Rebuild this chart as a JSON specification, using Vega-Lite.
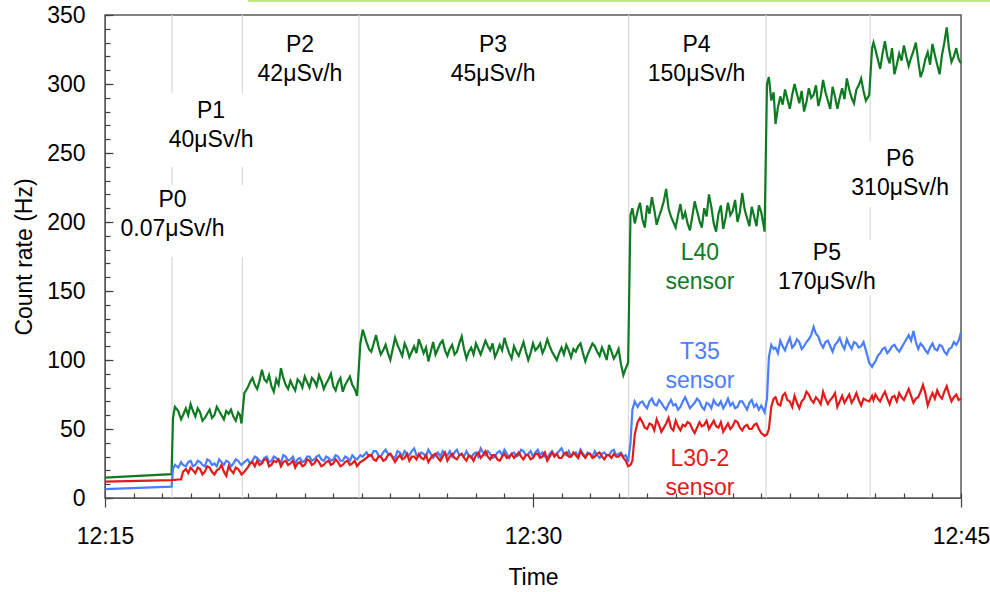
{
  "$schema": "https://vega.github.io/schema/vega-lite/v6.json",
  "width": 856,
  "height": 483,
  "autosize": "none",
  "padding": {"left": 105, "top": 15, "right": 29, "bottom": 94},
  "background": "white",
  "config": {
    "font": "Liberation Sans",
    "view": {"stroke": "#595959", "strokeWidth": 1.5},
    "axis": {"grid": false, "labelColor": "black", "titleColor": "black", "titleFontWeight": "normal", "labelFontSize": 23, "titleFontSize": 23, "tickColor": "#404040", "tickWidth": 1.2, "domainColor": "#595959", "labelFlush": false}
  },
  "resolve": {"axis": {"x": "independent", "y": "independent"}},
  "datasets": {
    "series": [
      {"t":"12:15:00","g":14.7,"b":6.5,"r":11.8},
      {"t":"12:17:20","g":17.3,"b":8.2,"r":13},
      {"t":"12:17:23","g":58,"b":21,"r":13.1},
      {"t":"12:17:27","g":66,"b":24,"r":13.2},
      {"t":"12:17:34","g":63,"b":22,"r":13.4},
      {"t":"12:17:40","g":57,"b":26,"r":13.5},
      {"t":"12:17:44","g":60,"b":24,"r":19},
      {"t":"12:17:50","g":65,"b":23,"r":21},
      {"t":"12:17:55","g":60,"b":26,"r":18},
      {"t":"12:18:00","g":68,"b":27,"r":22},
      {"t":"12:18:05","g":63,"b":23,"r":20},
      {"t":"12:18:10","g":59,"b":24,"r":18},
      {"t":"12:18:15","g":65,"b":27,"r":22},
      {"t":"12:18:20","g":62,"b":26,"r":21},
      {"t":"12:18:25","g":56,"b":24,"r":17},
      {"t":"12:18:30","g":58,"b":23,"r":19},
      {"t":"12:18:35","g":61,"b":28,"r":23},
      {"t":"12:18:40","g":64,"b":27,"r":22},
      {"t":"12:18:45","g":58,"b":24,"r":19},
      {"t":"12:18:50","g":60,"b":25,"r":17},
      {"t":"12:18:55","g":66,"b":23,"r":20},
      {"t":"12:19:00","g":63,"b":28,"r":21},
      {"t":"12:19:05","g":60,"b":26,"r":24},
      {"t":"12:19:10","g":57,"b":24,"r":19},
      {"t":"12:19:15","g":63,"b":27,"r":16},
      {"t":"12:19:20","g":61,"b":26,"r":23},
      {"t":"12:19:25","g":64,"b":23,"r":20},
      {"t":"12:19:30","g":59,"b":25,"r":18},
      {"t":"12:19:35","g":56,"b":28,"r":22},
      {"t":"12:19:40","g":62,"b":27,"r":21},
      {"t":"12:19:44","g":60,"b":25,"r":19},
      {"t":"12:19:47","g":54,"b":24,"r":17},
      {"t":"12:19:53","g":76,"b":26,"r":19},
      {"t":"12:20:00","g":80,"b":28,"r":22},
      {"t":"12:20:05","g":84,"b":25,"r":25},
      {"t":"12:20:10","g":87,"b":27,"r":26},
      {"t":"12:20:15","g":82,"b":30,"r":23},
      {"t":"12:20:20","g":79,"b":29,"r":27},
      {"t":"12:20:25","g":85,"b":27,"r":24},
      {"t":"12:20:30","g":93,"b":26,"r":25},
      {"t":"12:20:35","g":86,"b":29,"r":28},
      {"t":"12:20:40","g":84,"b":30,"r":28},
      {"t":"12:20:45","g":89,"b":26,"r":23},
      {"t":"12:20:50","g":81,"b":27,"r":24},
      {"t":"12:20:55","g":77,"b":30,"r":27},
      {"t":"12:21:00","g":86,"b":29,"r":26},
      {"t":"12:21:05","g":82,"b":27,"r":28},
      {"t":"12:21:10","g":94,"b":26,"r":23},
      {"t":"12:21:15","g":87,"b":31,"r":26},
      {"t":"12:21:20","g":82,"b":30,"r":27},
      {"t":"12:21:25","g":79,"b":27,"r":24},
      {"t":"12:21:30","g":85,"b":28,"r":25},
      {"t":"12:21:35","g":81,"b":30,"r":27},
      {"t":"12:21:40","g":78,"b":25,"r":22},
      {"t":"12:21:45","g":86,"b":28,"r":25},
      {"t":"12:21:50","g":84,"b":29,"r":26},
      {"t":"12:21:55","g":80,"b":26,"r":23},
      {"t":"12:22:00","g":88,"b":27,"r":24},
      {"t":"12:22:05","g":84,"b":30,"r":28},
      {"t":"12:22:10","g":80,"b":30,"r":27},
      {"t":"12:22:15","g":87,"b":27,"r":24},
      {"t":"12:22:20","g":85,"b":28,"r":25},
      {"t":"12:22:25","g":81,"b":30,"r":28},
      {"t":"12:22:30","g":89,"b":31,"r":26},
      {"t":"12:22:35","g":85,"b":28,"r":23},
      {"t":"12:22:40","g":79,"b":27,"r":24},
      {"t":"12:22:45","g":83,"b":30,"r":26},
      {"t":"12:22:50","g":86,"b":29,"r":27},
      {"t":"12:22:55","g":90,"b":27,"r":24},
      {"t":"12:23:00","g":81,"b":28,"r":25},
      {"t":"12:23:05","g":78,"b":31,"r":28},
      {"t":"12:23:10","g":84,"b":30,"r":26},
      {"t":"12:23:15","g":87,"b":27,"r":23},
      {"t":"12:23:20","g":77,"b":27,"r":24},
      {"t":"12:23:25","g":82,"b":30,"r":26},
      {"t":"12:23:30","g":85,"b":29,"r":27},
      {"t":"12:23:35","g":88,"b":27,"r":24},
      {"t":"12:23:40","g":82,"b":31,"r":25},
      {"t":"12:23:45","g":79,"b":29,"r":27},
      {"t":"12:23:50","g":74,"b":28,"r":23},
      {"t":"12:23:57","g":112,"b":31,"r":26},
      {"t":"12:24:02","g":122,"b":30,"r":27},
      {"t":"12:24:10","g":113,"b":33,"r":29},
      {"t":"12:24:15","g":108,"b":30,"r":31},
      {"t":"12:24:20","g":106,"b":31,"r":31},
      {"t":"12:24:25","g":112,"b":34,"r":28},
      {"t":"12:24:30","g":118,"b":34,"r":27},
      {"t":"12:24:35","g":110,"b":31,"r":30},
      {"t":"12:24:40","g":104,"b":30,"r":30},
      {"t":"12:24:45","g":107,"b":33,"r":27},
      {"t":"12:24:50","g":111,"b":35,"r":28},
      {"t":"12:24:55","g":105,"b":32,"r":31},
      {"t":"12:25:00","g":100,"b":32,"r":32},
      {"t":"12:25:05","g":108,"b":30,"r":29},
      {"t":"12:25:10","g":116,"b":29,"r":26},
      {"t":"12:25:15","g":111,"b":34,"r":29},
      {"t":"12:25:20","g":107,"b":33,"r":31},
      {"t":"12:25:25","g":103,"b":30,"r":28},
      {"t":"12:25:30","g":112,"b":34,"r":29},
      {"t":"12:25:35","g":108,"b":32,"r":32},
      {"t":"12:25:40","g":102,"b":31,"r":27},
      {"t":"12:25:45","g":106,"b":34,"r":30},
      {"t":"12:25:50","g":110,"b":36,"r":30},
      {"t":"12:25:55","g":105,"b":31,"r":28},
      {"t":"12:26:00","g":115,"b":30,"r":32},
      {"t":"12:26:05","g":110,"b":33,"r":29},
      {"t":"12:26:10","g":105,"b":32,"r":28},
      {"t":"12:26:15","g":109,"b":30,"r":31},
      {"t":"12:26:20","g":99,"b":35,"r":26},
      {"t":"12:26:25","g":106,"b":32,"r":29},
      {"t":"12:26:30","g":113,"b":29,"r":31},
      {"t":"12:26:35","g":104,"b":31,"r":32},
      {"t":"12:26:40","g":108,"b":33,"r":29},
      {"t":"12:26:45","g":112,"b":30,"r":27},
      {"t":"12:26:50","g":114,"b":34,"r":30},
      {"t":"12:26:55","g":107,"b":32,"r":33},
      {"t":"12:27:00","g":103,"b":31,"r":27},
      {"t":"12:27:05","g":108,"b":34,"r":30},
      {"t":"12:27:10","g":111,"b":30,"r":32},
      {"t":"12:27:15","g":104,"b":33,"r":29},
      {"t":"12:27:20","g":106,"b":35,"r":28},
      {"t":"12:27:25","g":112,"b":31,"r":31},
      {"t":"12:27:30","g":117,"b":32,"r":32},
      {"t":"12:27:35","g":108,"b":30,"r":29},
      {"t":"12:27:40","g":101,"b":34,"r":27},
      {"t":"12:27:45","g":106,"b":31,"r":31},
      {"t":"12:27:50","g":109,"b":29,"r":30},
      {"t":"12:27:55","g":104,"b":32,"r":27},
      {"t":"12:28:00","g":112,"b":33,"r":31},
      {"t":"12:28:05","g":108,"b":30,"r":33},
      {"t":"12:28:10","g":104,"b":36,"r":29},
      {"t":"12:28:15","g":109,"b":33,"r":31},
      {"t":"12:28:20","g":114,"b":31,"r":34},
      {"t":"12:28:25","g":110,"b":34,"r":30},
      {"t":"12:28:30","g":107,"b":32,"r":28},
      {"t":"12:28:35","g":112,"b":29,"r":31},
      {"t":"12:28:40","g":102,"b":30,"r":31},
      {"t":"12:28:45","g":106,"b":33,"r":28},
      {"t":"12:28:50","g":111,"b":34,"r":27},
      {"t":"12:28:55","g":107,"b":31,"r":30},
      {"t":"12:29:00","g":116,"b":35,"r":32},
      {"t":"12:29:05","g":110,"b":32,"r":29},
      {"t":"12:29:10","g":105,"b":29,"r":30},
      {"t":"12:29:15","g":101,"b":32,"r":32},
      {"t":"12:29:20","g":110,"b":33,"r":29},
      {"t":"12:29:25","g":106,"b":30,"r":31},
      {"t":"12:29:30","g":103,"b":31,"r":33},
      {"t":"12:29:35","g":108,"b":35,"r":30},
      {"t":"12:29:40","g":113,"b":34,"r":28},
      {"t":"12:29:45","g":106,"b":31,"r":31},
      {"t":"12:29:50","g":100,"b":32,"r":31},
      {"t":"12:29:55","g":105,"b":34,"r":28},
      {"t":"12:30:00","g":112,"b":30,"r":29},
      {"t":"12:30:05","g":107,"b":33,"r":32},
      {"t":"12:30:10","g":109,"b":35,"r":32},
      {"t":"12:30:15","g":112,"b":31,"r":29},
      {"t":"12:30:20","g":105,"b":33,"r":30},
      {"t":"12:30:25","g":109,"b":30,"r":33},
      {"t":"12:30:30","g":115,"b":29,"r":27},
      {"t":"12:30:35","g":110,"b":32,"r":30},
      {"t":"12:30:40","g":106,"b":34,"r":33},
      {"t":"12:30:45","g":103,"b":31,"r":30},
      {"t":"12:30:50","g":100,"b":32,"r":32},
      {"t":"12:30:55","g":105,"b":34,"r":29},
      {"t":"12:31:00","g":109,"b":36,"r":29},
      {"t":"12:31:05","g":104,"b":32,"r":32},
      {"t":"12:31:10","g":111,"b":31,"r":33},
      {"t":"12:31:15","g":107,"b":34,"r":30},
      {"t":"12:31:20","g":102,"b":30,"r":30},
      {"t":"12:31:25","g":108,"b":32,"r":33},
      {"t":"12:31:30","g":106,"b":33,"r":31},
      {"t":"12:31:35","g":110,"b":30,"r":29},
      {"t":"12:31:40","g":112,"b":35,"r":34},
      {"t":"12:31:45","g":105,"b":32,"r":31},
      {"t":"12:31:50","g":99,"b":30,"r":29},
      {"t":"12:31:55","g":104,"b":33,"r":32},
      {"t":"12:32:00","g":108,"b":32,"r":32},
      {"t":"12:32:05","g":112,"b":30,"r":29},
      {"t":"12:32:10","g":110,"b":34,"r":30},
      {"t":"12:32:15","g":106,"b":31,"r":32},
      {"t":"12:32:20","g":103,"b":29,"r":33},
      {"t":"12:32:25","g":109,"b":32,"r":30},
      {"t":"12:32:30","g":105,"b":33,"r":28},
      {"t":"12:32:35","g":100,"b":31,"r":31},
      {"t":"12:32:40","g":111,"b":31,"r":31},
      {"t":"12:32:45","g":106,"b":34,"r":29},
      {"t":"12:32:50","g":101,"b":35,"r":32},
      {"t":"12:32:55","g":104,"b":31,"r":30},
      {"t":"12:33:00","g":108,"b":32,"r":30},
      {"t":"12:33:05","g":97,"b":33,"r":32},
      {"t":"12:33:10","g":89,"b":30,"r":29},
      {"t":"12:33:15","g":94,"b":31,"r":27},
      {"t":"12:33:20","g":98,"b":26,"r":23},
      {"t":"12:33:25","g":205,"b":40,"r":24},
      {"t":"12:33:29","g":210,"b":64,"r":27},
      {"t":"12:33:34","g":199,"b":70,"r":46},
      {"t":"12:33:40","g":208,"b":66,"r":55},
      {"t":"12:33:45","g":214,"b":69,"r":58},
      {"t":"12:33:50","g":202,"b":70,"r":55},
      {"t":"12:33:55","g":196,"b":67,"r":51},
      {"t":"12:34:00","g":212,"b":65,"r":50},
      {"t":"12:34:05","g":206,"b":70,"r":54},
      {"t":"12:34:10","g":218,"b":72,"r":53},
      {"t":"12:34:15","g":209,"b":68,"r":49},
      {"t":"12:34:20","g":198,"b":67,"r":57},
      {"t":"12:34:25","g":204,"b":71,"r":53},
      {"t":"12:34:30","g":209,"b":69,"r":48},
      {"t":"12:34:35","g":215,"b":66,"r":51},
      {"t":"12:34:40","g":224,"b":64,"r":54},
      {"t":"12:34:45","g":210,"b":68,"r":58},
      {"t":"12:34:50","g":204,"b":71,"r":51},
      {"t":"12:34:55","g":200,"b":67,"r":49},
      {"t":"12:35:00","g":196,"b":68,"r":56},
      {"t":"12:35:05","g":205,"b":64,"r":52},
      {"t":"12:35:10","g":213,"b":66,"r":49},
      {"t":"12:35:15","g":202,"b":70,"r":53},
      {"t":"12:35:20","g":207,"b":73,"r":52},
      {"t":"12:35:25","g":199,"b":69,"r":55},
      {"t":"12:35:30","g":194,"b":65,"r":54},
      {"t":"12:35:35","g":204,"b":67,"r":50},
      {"t":"12:35:40","g":215,"b":69,"r":47},
      {"t":"12:35:45","g":208,"b":72,"r":51},
      {"t":"12:35:50","g":201,"b":70,"r":55},
      {"t":"12:35:55","g":196,"b":66,"r":52},
      {"t":"12:36:00","g":210,"b":64,"r":53},
      {"t":"12:36:05","g":204,"b":69,"r":56},
      {"t":"12:36:10","g":220,"b":68,"r":50},
      {"t":"12:36:15","g":211,"b":65,"r":53},
      {"t":"12:36:20","g":199,"b":71,"r":56},
      {"t":"12:36:25","g":193,"b":68,"r":52},
      {"t":"12:36:30","g":206,"b":67,"r":51},
      {"t":"12:36:35","g":212,"b":70,"r":55},
      {"t":"12:36:40","g":195,"b":65,"r":48},
      {"t":"12:36:45","g":203,"b":68,"r":51},
      {"t":"12:36:50","g":214,"b":72,"r":54},
      {"t":"12:36:55","g":205,"b":67,"r":50},
      {"t":"12:37:00","g":208,"b":69,"r":52},
      {"t":"12:37:05","g":216,"b":65,"r":56},
      {"t":"12:37:10","g":200,"b":66,"r":55},
      {"t":"12:37:15","g":207,"b":70,"r":51},
      {"t":"12:37:20","g":221,"b":70,"r":49},
      {"t":"12:37:25","g":209,"b":67,"r":52},
      {"t":"12:37:30","g":203,"b":64,"r":53},
      {"t":"12:37:35","g":197,"b":69,"r":50},
      {"t":"12:37:40","g":211,"b":71,"r":50},
      {"t":"12:37:45","g":204,"b":66,"r":53},
      {"t":"12:37:50","g":197,"b":68,"r":54},
      {"t":"12:37:55","g":212,"b":64,"r":50},
      {"t":"12:38:00","g":207,"b":67,"r":47},
      {"t":"12:38:07","g":193,"b":62,"r":45},
      {"t":"12:38:12","g":300,"b":72,"r":46},
      {"t":"12:38:16","g":305,"b":102,"r":50},
      {"t":"12:38:21","g":288,"b":111,"r":66},
      {"t":"12:38:26","g":294,"b":108,"r":72},
      {"t":"12:38:30","g":271,"b":109,"r":73},
      {"t":"12:38:35","g":283,"b":105,"r":68},
      {"t":"12:38:40","g":291,"b":114,"r":67},
      {"t":"12:38:45","g":285,"b":110,"r":74},
      {"t":"12:38:50","g":296,"b":107,"r":76},
      {"t":"12:38:55","g":289,"b":112,"r":71},
      {"t":"12:39:00","g":282,"b":116,"r":70},
      {"t":"12:39:05","g":292,"b":109,"r":66},
      {"t":"12:39:10","g":300,"b":111,"r":74},
      {"t":"12:39:15","g":293,"b":115,"r":69},
      {"t":"12:39:20","g":286,"b":113,"r":65},
      {"t":"12:39:25","g":295,"b":108,"r":70},
      {"t":"12:39:30","g":280,"b":110,"r":72},
      {"t":"12:39:35","g":287,"b":113,"r":77},
      {"t":"12:39:40","g":297,"b":115,"r":75},
      {"t":"12:39:45","g":290,"b":118,"r":71},
      {"t":"12:39:50","g":292,"b":124,"r":69},
      {"t":"12:39:55","g":299,"b":119,"r":73},
      {"t":"12:40:00","g":284,"b":117,"r":71},
      {"t":"12:40:05","g":291,"b":112,"r":68},
      {"t":"12:40:10","g":303,"b":109,"r":77},
      {"t":"12:40:15","g":294,"b":113,"r":72},
      {"t":"12:40:20","g":288,"b":114,"r":68},
      {"t":"12:40:25","g":282,"b":110,"r":71},
      {"t":"12:40:30","g":298,"b":106,"r":73},
      {"t":"12:40:35","g":291,"b":111,"r":76},
      {"t":"12:40:40","g":282,"b":113,"r":66},
      {"t":"12:40:45","g":290,"b":116,"r":70},
      {"t":"12:40:50","g":297,"b":111,"r":74},
      {"t":"12:40:55","g":289,"b":108,"r":69},
      {"t":"12:41:00","g":304,"b":115,"r":72},
      {"t":"12:41:05","g":296,"b":111,"r":75},
      {"t":"12:41:10","g":290,"b":108,"r":69},
      {"t":"12:41:15","g":286,"b":113,"r":72},
      {"t":"12:41:20","g":296,"b":112,"r":76},
      {"t":"12:41:25","g":299,"b":109,"r":71},
      {"t":"12:41:30","g":304,"b":110,"r":67},
      {"t":"12:41:35","g":295,"b":113,"r":72},
      {"t":"12:41:40","g":288,"b":107,"r":71},
      {"t":"12:41:47","g":292,"b":98,"r":70},
      {"t":"12:41:53","g":326,"b":95,"r":74},
      {"t":"12:41:56","g":330,"b":97,"r":71},
      {"t":"12:42:00","g":325,"b":99,"r":75},
      {"t":"12:42:05","g":318,"b":103,"r":72},
      {"t":"12:42:10","g":311,"b":105,"r":70},
      {"t":"12:42:15","g":322,"b":108,"r":74},
      {"t":"12:42:20","g":331,"b":109,"r":77},
      {"t":"12:42:25","g":320,"b":105,"r":72},
      {"t":"12:42:30","g":315,"b":107,"r":68},
      {"t":"12:42:35","g":326,"b":110,"r":73},
      {"t":"12:42:40","g":307,"b":111,"r":74},
      {"t":"12:42:45","g":314,"b":108,"r":70},
      {"t":"12:42:50","g":322,"b":106,"r":76},
      {"t":"12:42:55","g":317,"b":109,"r":73},
      {"t":"12:43:00","g":328,"b":112,"r":71},
      {"t":"12:43:05","g":320,"b":115,"r":75},
      {"t":"12:43:10","g":313,"b":118,"r":79},
      {"t":"12:43:15","g":319,"b":114,"r":74},
      {"t":"12:43:20","g":324,"b":121,"r":69},
      {"t":"12:43:25","g":330,"b":113,"r":72},
      {"t":"12:43:30","g":317,"b":108,"r":73},
      {"t":"12:43:35","g":305,"b":112,"r":77},
      {"t":"12:43:40","g":310,"b":110,"r":82},
      {"t":"12:43:45","g":318,"b":107,"r":76},
      {"t":"12:43:50","g":323,"b":105,"r":67},
      {"t":"12:43:55","g":314,"b":109,"r":72},
      {"t":"12:44:00","g":329,"b":112,"r":76},
      {"t":"12:44:05","g":321,"b":108,"r":72},
      {"t":"12:44:10","g":314,"b":107,"r":78},
      {"t":"12:44:15","g":307,"b":111,"r":74},
      {"t":"12:44:20","g":321,"b":110,"r":72},
      {"t":"12:44:25","g":330,"b":106,"r":77},
      {"t":"12:44:30","g":341,"b":104,"r":81},
      {"t":"12:44:35","g":325,"b":108,"r":75},
      {"t":"12:44:40","g":316,"b":109,"r":70},
      {"t":"12:44:45","g":320,"b":113,"r":73},
      {"t":"12:44:50","g":326,"b":111,"r":75},
      {"t":"12:44:55","g":318,"b":114,"r":71},
      {"t":"12:45:00","g":315,"b":120,"r":72}
    ],
    "phases": [
      {"t":"12:17:21","lo":0,"hi":174.6},
      {"t":"12:17:21","lo":226.8,"hi":239.9},
      {"t":"12:17:21","lo":293.5,"hi":350},
      {"t":"12:19:49","lo":0,"hi":174.6},
      {"t":"12:19:49","lo":226.8,"hi":239.9},
      {"t":"12:19:49","lo":293.5,"hi":350},
      {"t":"12:23:54","lo":0,"hi":350},
      {"t":"12:33:21","lo":0,"hi":350},
      {"t":"12:38:10","lo":0,"hi":350},
      {"t":"12:41:49","lo":0,"hi":147.1},
      {"t":"12:41:49","lo":187,"hi":210.9},
      {"t":"12:41:49","lo":258.7,"hi":350}
    ],
    "labels": [
      {"t":"12:17:22","v":216.3,"k":"k","s":"P0\n0.07μSv/h"},
      {"t":"12:18:43","v":280.1,"k":"k","s":"P1\n40μSv/h"},
      {"t":"12:21:50","v":328.6,"k":"k","s":"P2\n42μSv/h"},
      {"t":"12:28:36","v":328.6,"k":"k","s":"P3\n45μSv/h"},
      {"t":"12:35:44","v":328.6,"k":"k","s":"P4\n150μSv/h"},
      {"t":"12:40:18","v":177.2,"k":"k","s":"P5\n170μSv/h"},
      {"t":"12:42:52","v":245.6,"k":"k","s":"P6\n310μSv/h"},
      {"t":"12:35:51","v":177.5,"k":"g","s":"L40\nsensor"},
      {"t":"12:35:51","v":106.1,"k":"b","s":"T35\nsensor"},
      {"t":"12:35:51","v":28.2,"k":"r","s":"L30-2\nsensor"}
    ],
    "box": [
      {"t1":"12:20:01","t2":"12:46:30","lo":359.4,"hi":366}
    ]
  },
  "layer": [
    {
      "data": {"name": "box", "format": {"parse": {"t1": "date:'%H:%M:%S'", "t2": "date:'%H:%M:%S'"}}},
      "mark": {"type": "rect", "clip": false, "color": "#c3e67e"},
      "encoding": {
        "x": {"field": "t1", "type": "temporal",
              "scale": {"domain": [{"year":1900,"month":1,"date":1,"hours":12,"minutes":15},{"year":1900,"month":1,"date":1,"hours":12,"minutes":45}], "nice": false},
              "axis": {"title": "Time", "orient": "bottom", "format": "%H:%M", "labelPadding": 18, "tickSize": 9, "titlePadding": 18,
                       "values": [{"year":1900,"month":1,"date":1,"hours":12,"minutes":15},{"year":1900,"month":1,"date":1,"hours":12,"minutes":30},{"year":1900,"month":1,"date":1,"hours":12,"minutes":45}]}},
        "x2": {"field": "t2"},
        "y": {"field": "lo", "type": "quantitative", "scale": {"domain": [0, 350], "nice": false},
              "axis": {"title": "Count rate (Hz)", "orient": "left", "values": [0, 50, 100, 150, 200, 250, 300, 350], "ticks": false, "labelPadding": 20, "titlePadding": 10}},
        "y2": {"field": "hi"}
      }
    },
    {
      "data": {"name": "phases", "format": {"parse": {"t": "date:'%H:%M:%S'"}}},
      "mark": {"type": "rule", "color": "#d9d9d9", "strokeWidth": 1.2},
      "encoding": {
        "x": {"field": "t", "type": "temporal",
              "axis": {"orient": "top", "offset": -483, "title": null, "labels": false, "domain": false, "tickSize": 5,
                       "values": [
                         {"year":1900,"month":1,"date":1,"hours":12,"minutes":15},{"year":1900,"month":1,"date":1,"hours":12,"minutes":16},{"year":1900,"month":1,"date":1,"hours":12,"minutes":17},{"year":1900,"month":1,"date":1,"hours":12,"minutes":18},{"year":1900,"month":1,"date":1,"hours":12,"minutes":19},{"year":1900,"month":1,"date":1,"hours":12,"minutes":20},
                         {"year":1900,"month":1,"date":1,"hours":12,"minutes":21},{"year":1900,"month":1,"date":1,"hours":12,"minutes":22},{"year":1900,"month":1,"date":1,"hours":12,"minutes":23},{"year":1900,"month":1,"date":1,"hours":12,"minutes":24},{"year":1900,"month":1,"date":1,"hours":12,"minutes":25},
                         {"year":1900,"month":1,"date":1,"hours":12,"minutes":26},{"year":1900,"month":1,"date":1,"hours":12,"minutes":27},{"year":1900,"month":1,"date":1,"hours":12,"minutes":28},{"year":1900,"month":1,"date":1,"hours":12,"minutes":29},{"year":1900,"month":1,"date":1,"hours":12,"minutes":30},
                         {"year":1900,"month":1,"date":1,"hours":12,"minutes":31},{"year":1900,"month":1,"date":1,"hours":12,"minutes":32},{"year":1900,"month":1,"date":1,"hours":12,"minutes":33},{"year":1900,"month":1,"date":1,"hours":12,"minutes":34},{"year":1900,"month":1,"date":1,"hours":12,"minutes":35},
                         {"year":1900,"month":1,"date":1,"hours":12,"minutes":36},{"year":1900,"month":1,"date":1,"hours":12,"minutes":37},{"year":1900,"month":1,"date":1,"hours":12,"minutes":38},{"year":1900,"month":1,"date":1,"hours":12,"minutes":39},{"year":1900,"month":1,"date":1,"hours":12,"minutes":40},
                         {"year":1900,"month":1,"date":1,"hours":12,"minutes":41},{"year":1900,"month":1,"date":1,"hours":12,"minutes":42},{"year":1900,"month":1,"date":1,"hours":12,"minutes":43},{"year":1900,"month":1,"date":1,"hours":12,"minutes":44},{"year":1900,"month":1,"date":1,"hours":12,"minutes":45}
                       ]}},
        "y": {"field": "lo", "type": "quantitative",
              "axis": {"orient": "right", "offset": -856, "title": null, "labels": false, "domain": false, "tickSize": 5,
                       "values": [0,10,20,30,40,50,60,70,80,90,100,110,120,130,140,150,160,170,180,190,200,210,220,230,240,250,260,270,280,290,300,310,320,330,340,350]}},
        "y2": {"field": "hi"}
      }
    },
    {
      "data": {"name": "series", "format": {"parse": {"t": "date:'%H:%M:%S'"}}},
      "transform": [{"fold": ["g", "b", "r"], "as": ["k", "v"]}],
      "mark": {"type": "line", "strokeWidth": 2.2},
      "encoding": {
        "x": {"field": "t", "type": "temporal", "axis": null},
        "y": {"field": "v", "type": "quantitative", "axis": null},
        "color": {
          "field": "k", "type": "nominal", "legend": null,
          "scale": {"domain": ["g", "b", "r", "k"], "range": ["#0e7a22", "#4a7eff", "#e41a1a", "#000000"]}
        }
      }
    },
    {
      "data": {"name": "labels", "format": {"parse": {"t": "date:'%H:%M:%S'"}}},
      "mark": {"type": "text", "fontSize": 23, "lineHeight": 29, "lineBreak": "\n", "align": "center", "baseline": "middle"},
      "encoding": {
        "x": {"field": "t", "type": "temporal", "axis": null},
        "y": {"field": "v", "type": "quantitative",
              "axis": {"orient": "right", "offset": -856, "title": null, "labels": false, "domain": false, "tickSize": 8,
                       "values": [0, 50, 100, 150, 200, 250, 300, 350]}},
        "text": {"field": "s", "type": "nominal"},
        "color": {"field": "k", "type": "nominal", "legend": null}
      }
    }
  ]
}
